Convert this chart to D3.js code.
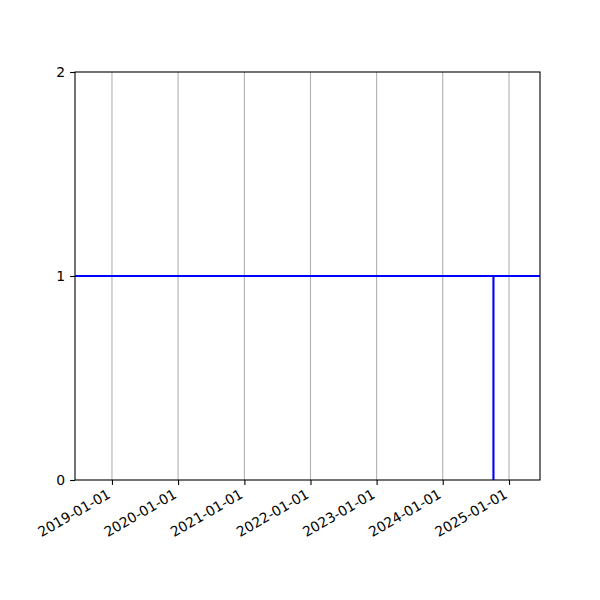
<!DOCTYPE html>
<html>
<head>
<meta charset="utf-8">
<script src="https://cdn.jsdelivr.net/npm/d3@7"></script>
<style>
  html, body { margin: 0; padding: 0; background: #fff; }
  text { font-family: "DejaVu Sans", sans-serif; font-size: 13.9px; fill: #000; }
</style>
</head>
<body>
<svg id="chart" width="600" height="600"></svg>
<script>
// x range shown and tick labels
var xLimits    = ['2018-06-11', '2025-06-21'];
var xTickDates = ['2019-01-01', '2020-01-01', '2021-01-01', '2022-01-01', '2023-01-01', '2024-01-01', '2025-01-01'];
var yTicks     = [0, 1, 2];

// level series (constant 1 over the full range)
var levelDates  = ['2018-06-11', '2025-06-21'];
var levelValues = [1, 1];

// drop series (vertical step down)
var dropDates  = ['2024-10-07', '2024-10-07'];
var dropValues = [1, 0];

var margin = { left: 75, right: 60, top: 72, bottom: 120 };
var width  = 600 - margin.left - margin.right;
var height = 600 - margin.top - margin.bottom;

var parse = d3.utcParse('%Y-%m-%d');

var x = d3.scaleUtc()
    .domain(xLimits.map(parse))
    .range([0, width]);

var y = d3.scaleLinear()
    .domain([0, 2])
    .range([height, 0]);

var svg = d3.select('#chart');
var g = svg.append('g')
    .attr('transform', `translate(${ margin.left }, ${ margin.top })`);

g.append('clipPath')
    .attr('id', 'plot-clip')
  .append('rect')
    .attr('width', width)
    .attr('height', height);

// vertical grid
g.append('g')
    .attr('class', 'grid')
    .selectAll('line')
    .data(xTickDates.map(parse))
    .enter().append('line')
    .attr('x1', d => x(d))
    .attr('x2', d => x(d))
    .attr('y1', 0)
    .attr('y2', height)
    .attr('stroke', '#b0b0b0')
    .attr('stroke-width', 1.1)
;

var line = d3.line()
    .x(d => x(d.date))
    .y(d => y(d.value));

var series = [
    levelDates.map((d, i) => ({ date: parse(d), value: levelValues[i] })),
    dropDates.map((d, i) => ({ date: parse(d), value: dropValues[i] }))
];

g.append('g')
    .attr('clip-path', 'url(#plot-clip)')
    .selectAll('path')
    .data(series)
    .enter().append('path')
    .attr('d', line)
    .attr('fill', 'none')
    .attr('stroke', '#0000ff')
    .attr('stroke-width', 2.1)
;

// axes
var xAxis = d3.axisBottom(x)
    .tickValues(xTickDates.map(parse))
    .tickSize(4.9)
    .tickPadding(4.9)
    .tickFormat(d3.utcFormat('%Y-%m-%d'));

var xg = g.append('g')
    .attr('transform', `translate(0, ${ height })`)
    .call(xAxis);

xg.select('.domain').remove();
xg.selectAll('.tick line').attr('stroke', '#000').attr('stroke-width', 1.1);
xg.selectAll('.tick text')
    .attr('font-size', null)
    .attr('font-family', null)
    .attr('text-anchor', 'end')
    .attr('dy', null)
    .attr('y', null)
    .attr('transform', 'translate(-1, 17) rotate(-30)')
;

var yAxis = d3.axisLeft(y)
    .tickValues(yTicks)
    .tickSize(4.9)
    .tickPadding(4.9)
    .tickFormat(d3.format('d'));

var yg = g.append('g').call(yAxis);
yg.select('.domain').remove();
yg.selectAll('.tick line').attr('stroke', '#000').attr('stroke-width', 1.1);
yg.selectAll('.tick text').attr('font-size', null).attr('font-family', null);

// spines
g.append('rect')
    .attr('width', width)
    .attr('height', height)
    .attr('fill', 'none')
    .attr('stroke', '#000')
    .attr('stroke-width', 1.1)
;
</script>
</body>
</html>
